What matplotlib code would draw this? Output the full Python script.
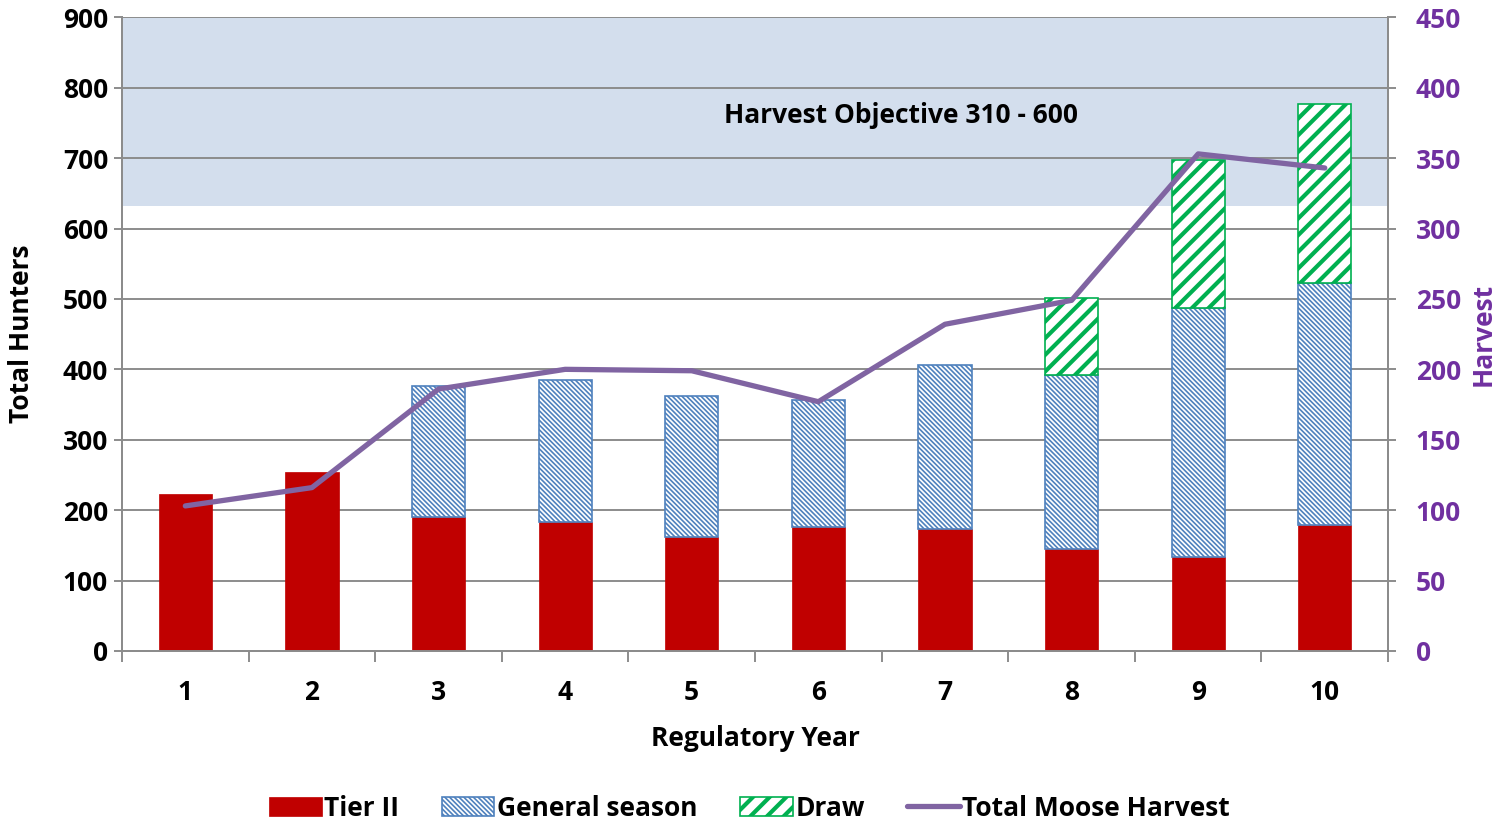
import matplotlib.pyplot as plt
import numpy as np

plt.rcParams['font.family'] = ['Open Sans', 'DejaVu Sans']
plt.rcParams['font.weight'] = 'bold'

years = [1, 2, 3, 4, 5, 6, 7, 8, 9, 10]
tier2 = [223, 254, 190, 183, 162, 176, 173, 145, 133, 179]
general = [0, 0, 186, 202, 200, 180, 233, 247, 354, 343]
draw = [0, 0, 0, 0, 0, 0, 0, 109, 210, 255]
harvest = [103, 116, 186, 200, 199, 177, 232, 249, 353, 343]
objective_low = 316  # harvest scale, band drawn up to top of axis

x = np.array(years)
tier2 = np.array(tier2)
general = np.array(general)
draw = np.array(draw)

fig = plt.figure(figsize=(14.99, 8.24), dpi=100)
ax = fig.add_axes([0.0814, 0.21, 0.8446, 0.769])
ax2 = ax.twinx()

ax.axhspan(objective_low * 2, 900, color='#d3deed', zorder=0, lw=0)
ax.text(6.65, 761, 'Harvest Objective 310 - 600', ha='center', va='center',
        fontsize=19, fontweight='bold', zorder=5)

w = 0.42
ax.bar(x, tier2, w, color='#c00000', edgecolor='#c00000', lw=0.5, label='Tier II', zorder=3)

gen_mask = general > 0
plt.rcParams['hatch.linewidth'] = 1.2
b2 = ax.bar(x[gen_mask], general[gen_mask], w, bottom=tier2[gen_mask], facecolor='white',
            edgecolor='#4f81bd', hatch='\\' * 7, lw=1.2, label='General season', zorder=3)
dr_mask = draw > 0
b3 = ax.bar(x[dr_mask], draw[dr_mask], w, bottom=(tier2 + general)[dr_mask], facecolor='white',
            edgecolor='#00b050', hatch='//', lw=1.2, label='Draw', zorder=3)


def set_hlw(patches, lw):
    for p in patches:
        if hasattr(p, 'set_hatch_linewidth'):
            p.set_hatch_linewidth(lw)


set_hlw(b3.patches, 3.0)
set_hlw(b2.patches, 1.2)

ax2.plot(x, harvest, color='#8064a2', lw=3.8, solid_capstyle='round', label='Total Moose Harvest', zorder=4)

ax.set_xlim(0.5, 10.5)
ax.set_ylim(0, 900)
ax2.set_ylim(0, 450)
ax.set_yticks(range(0, 901, 100))
ax2.set_yticks(range(0, 451, 50))
ax.grid(axis='y', color='#8c8c8c', lw=1.4, zorder=1)
ax.set_axisbelow(True)

ax.set_xticks(x)
ax.set_xticks(np.arange(0.5, 11, 1), minor=True)
ax.tick_params(axis='x', which='major', length=0, pad=20, labelsize=19)
ax.tick_params(axis='x', which='minor', length=8, color='#8c8c8c', width=1.4)
ax.tick_params(axis='y', length=6, color='#8c8c8c', width=1.4, labelsize=19, pad=4)
ax2.tick_params(axis='y', length=6, color='#8c8c8c', width=1.4, labelsize=19,
                labelcolor='#7030a0', pad=14)

for a in (ax, ax2):
    a.spines['top'].set_visible(False)
    for s in ('left', 'right', 'bottom'):
        a.spines[s].set_color('#8c8c8c')
        a.spines[s].set_linewidth(1.4)

ax.set_xlabel('Regulatory Year', fontsize=19, fontweight='bold', labelpad=14)
ax.set_ylabel('Total Hunters', fontsize=19, fontweight='bold', labelpad=20)
ax2.set_ylabel('Harvest', fontsize=19, fontweight='bold', color='#7030a0', labelpad=6)

h1, l1 = ax.get_legend_handles_labels()
h2, l2 = ax2.get_legend_handles_labels()
leg = fig.legend(h1 + h2, l1 + l2, loc='center', bbox_to_anchor=(0.5, 0.019), ncol=4,
                 frameon=False, fontsize=19, handlelength=2.0, handleheight=0.75,
                 handletextpad=0.1, columnspacing=1.6, borderaxespad=0, borderpad=0)
hs = leg.legend_handles
set_hlw([hs[1]], 1.2)
set_hlw([hs[2]], 3.0)

fig.savefig('out.png', dpi=100)
